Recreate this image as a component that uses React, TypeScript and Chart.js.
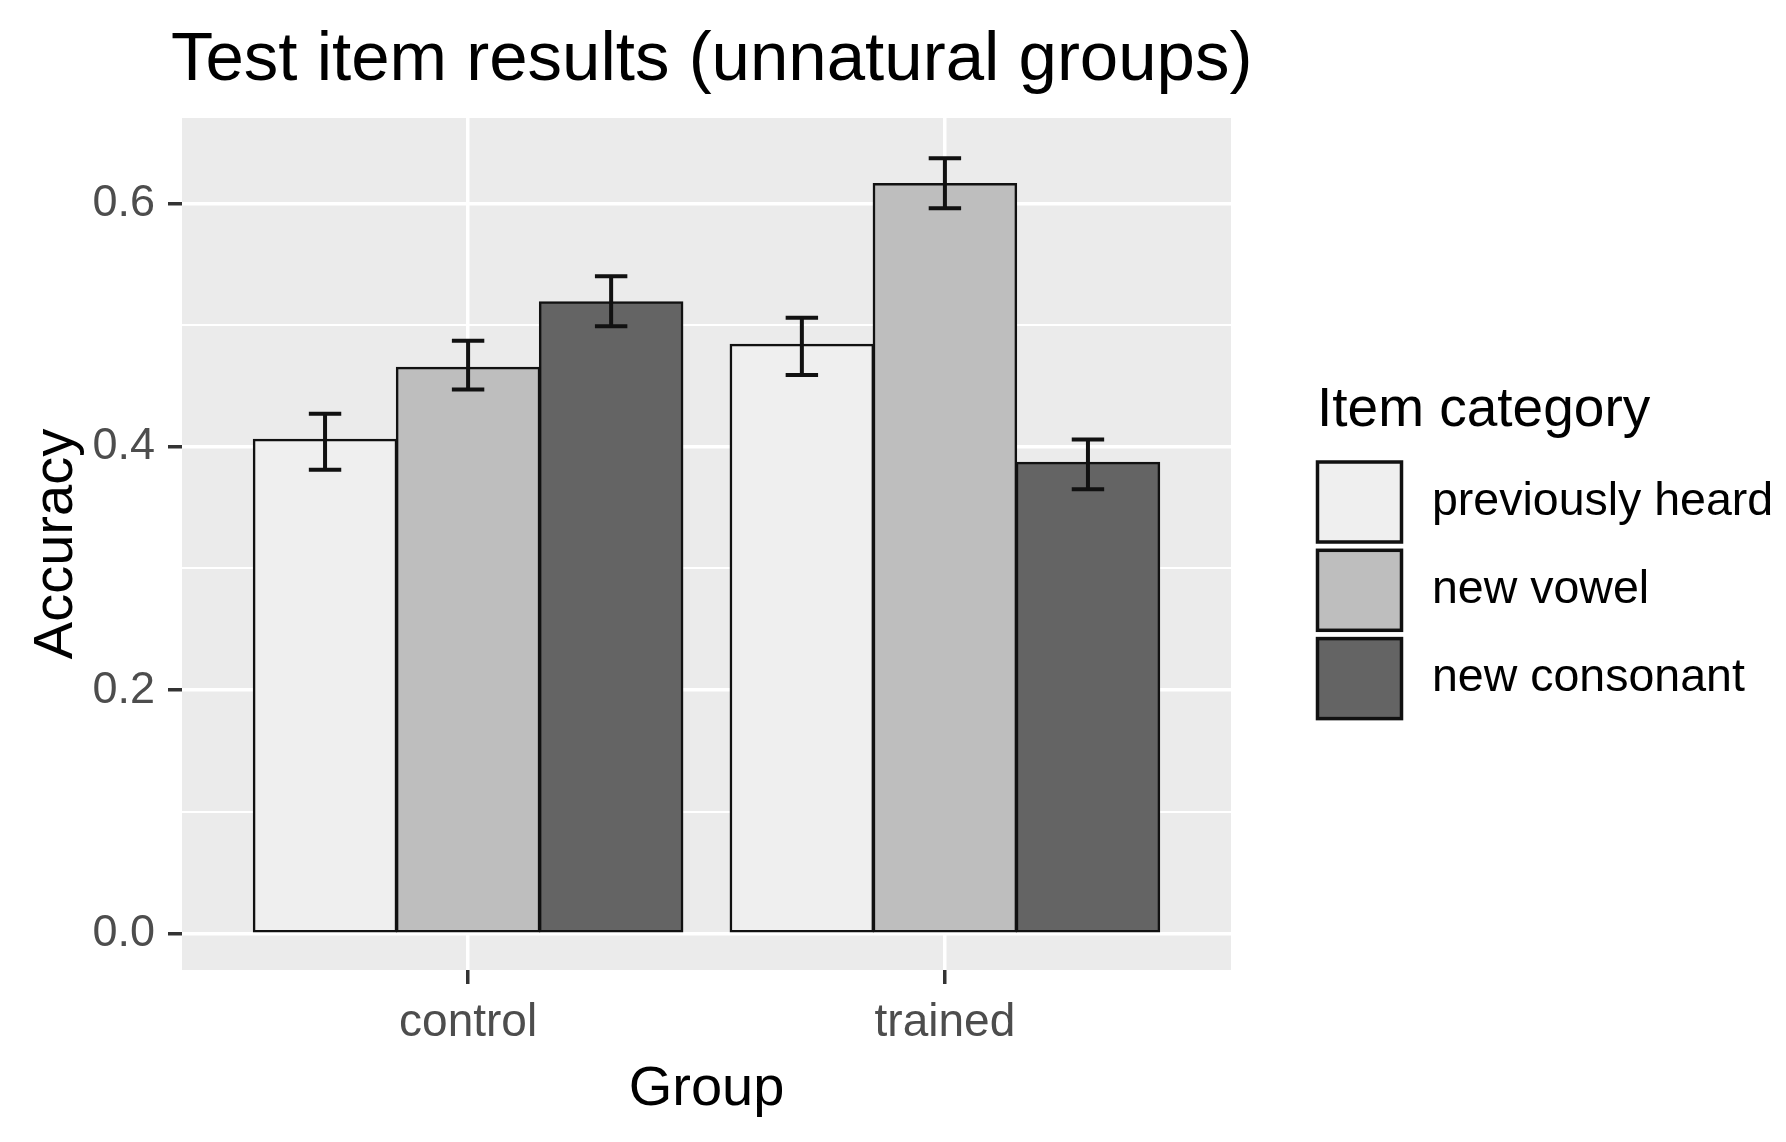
import React, { useEffect, useRef } from "react";
import { Chart, registerables } from "chart.js";

Chart.register(...registerables);

// ---- data ----
const groups = ["control", "trained"];
const categories = ["previously heard", "new vowel", "new consonant"];
const previouslyHeard = [0.406, 0.484];
const newVowel = [0.465, 0.616];
const newConsonant = [0.519, 0.387];
const previouslyHeardLow = [0.381, 0.459];
const previouslyHeardHigh = [0.427, 0.506];
const newVowelLow = [0.447, 0.596];
const newVowelHigh = [0.487, 0.637];
const newConsonantLow = [0.499, 0.365];
const newConsonantHigh = [0.540, 0.406];
const yTickValues = [0, 0.1, 0.2, 0.3, 0.4, 0.5, 0.6];
const yMin = -0.03;
const yMax = 0.6701;

const seriesValues = [previouslyHeard, newVowel, newConsonant];
const seriesLow = [previouslyHeardLow, newVowelLow, newConsonantLow];
const seriesHigh = [previouslyHeardHigh, newVowelHigh, newConsonantHigh];

const fills = ["#EFEFEF", "#BEBEBE", "#646464"];
const FONT = "'Liberation Sans', Arial, sans-serif";
const isMajor = (v: number) => Math.round(v * 10) % 2 === 0;

const W = 1786;
const H = 1142;

const bgPlugin = {
  id: "panelBg",
  beforeDraw(chart: any) {
    const { ctx, chartArea } = chart;
    ctx.save();
    ctx.fillStyle = "#FFFFFF";
    ctx.fillRect(0, 0, chart.width, chart.height);
    ctx.fillStyle = "#EBEBEB";
    ctx.fillRect(chartArea.left, chartArea.top, chartArea.right - chartArea.left, chartArea.bottom - chartArea.top);
    ctx.restore();
  },
};

const errorBarPlugin = {
  id: "errorBars",
  afterDatasetsDraw(chart: any) {
    const { ctx } = chart;
    const xs = chart.scales.x;
    const ys = chart.scales.y;
    const half = Math.abs(xs.getPixelForValue(1.034) - xs.getPixelForValue(1));
    ctx.save();
    ctx.strokeStyle = "#111111";
    ctx.lineWidth = 4;
    ctx.lineCap = "butt";
    chart.data.datasets.forEach((ds: any, i: number) => {
      const meta = chart.getDatasetMeta(i);
      meta.data.forEach((bar: any, j: number) => {
        const x = bar.x;
        const yl = ys.getPixelForValue(seriesLow[i][j]);
        const yh = ys.getPixelForValue(seriesHigh[i][j]);
        ctx.beginPath();
        ctx.moveTo(x, yl);
        ctx.lineTo(x, yh);
        ctx.moveTo(x - half, yl);
        ctx.lineTo(x + half, yl);
        ctx.moveTo(x - half, yh);
        ctx.lineTo(x + half, yh);
        ctx.stroke();
      });
    });
    ctx.restore();
  },
};

const textPlugin = {
  id: "texts",
  afterDraw(chart: any) {
    const { ctx, chartArea } = chart;
    ctx.save();
    ctx.fillStyle = "#000000";
    // plot title
    ctx.font = `69px ${FONT}`;
    ctx.textAlign = "left";
    ctx.textBaseline = "alphabetic";
    ctx.fillText("Test item results (unnatural groups)", 171, 80);
    // x axis title
    ctx.font = `56px ${FONT}`;
    ctx.textAlign = "center";
    ctx.fillText("Group", (chartArea.left + chartArea.right) / 2, 1105);
    // y axis title
    ctx.save();
    ctx.translate(72, (chartArea.top + chartArea.bottom) / 2);
    ctx.rotate(-Math.PI / 2);
    ctx.fillText("Accuracy", 0, 0);
    ctx.restore();
    // legend
    ctx.textAlign = "left";
    ctx.font = `55px ${FONT}`;
    ctx.fillText("Item category", 1317, 426);
    const boxX = 1317.5;
    const boxW = 84;
    const boxH = 80;
    const pitch = 88.3;
    chart.data.datasets.forEach((ds: any, i: number) => {
      const y0 = 462 + i * pitch;
      ctx.fillStyle = ds.backgroundColor;
      ctx.fillRect(boxX, y0, boxW, boxH);
      ctx.strokeStyle = "#111111";
      ctx.lineWidth = 3.5;
      ctx.strokeRect(boxX, y0, boxW, boxH);
      ctx.fillStyle = "#000000";
      ctx.font = `46.5px ${FONT}`;
      ctx.textBaseline = "middle";
      ctx.fillText(ds.label, 1432, y0 + boxH / 2);
      ctx.textBaseline = "alphabetic";
    });
    ctx.restore();
  },
};

export default function App() {
  const ref = useRef<HTMLCanvasElement | null>(null);

  useEffect(() => {
    if (!ref.current) return;
    const chart = new Chart(ref.current, {
      type: "bar",
      data: {
        datasets: categories.map((c, i) => ({
          label: c,
          data: groups.map((g, j) => ({ x: j + 1, y: seriesValues[i][j] })),
          backgroundColor: fills[i],
          borderColor: "#111111",
          borderWidth: 2.5,
          inflateAmount: 0.75,
          borderSkipped: false,
          categoryPercentage: 0.9,
          barPercentage: 1.0,
        })),
      },
      options: {
        animation: false,
        responsive: false,
        devicePixelRatio: 1,
        layout: { padding: { left: 0, top: 118, right: W - 1231, bottom: 0 } },
        plugins: {
          legend: { display: false },
          title: { display: false },
          tooltip: { enabled: false },
        },
        scales: {
          x: {
            type: "linear",
            position: "bottom",
            min: 0.4,
            max: 2.6,
            offset: false,
            afterBuildTicks: (s: any) => {
              s.ticks = groups.map((g, i) => ({ value: i + 1 }));
            },
            afterFit: (s: any) => {
              s.height = H - 970;
            },
            ticks: {
              callback: (v: any) => groups[Math.round(Number(v)) - 1] ?? "",
              font: { family: FONT, size: 46 },
              color: "#4D4D4D",
              padding: 12,
              maxRotation: 0,
              autoSkip: false,
            },
            grid: {
              offset: false,
              color: "#FFFFFF",
              lineWidth: 3.5,
              tickColor: "#333333",
              tickWidth: 3.5,
              tickLength: 14,
            },
            border: { display: false },
          },
          y: {
            type: "linear",
            position: "left",
            min: yMin,
            max: yMax,
            afterBuildTicks: (s: any) => {
              s.ticks = yTickValues.map((v) => ({ value: v }));
            },
            afterFit: (s: any) => {
              s.width = 182;
            },
            ticks: {
              callback: (v: any) => (isMajor(Number(v)) ? Number(v).toFixed(1) : ""),
              font: { family: FONT, size: 45 },
              color: "#4D4D4D",
              padding: 13,
              autoSkip: false,
            },
            grid: {
              color: "#FFFFFF",
              lineWidth: (c: any) => (isMajor(c.tick?.value ?? 0) ? 3.5 : 2),
              tickColor: (c: any) => (isMajor(c.tick?.value ?? 0) ? "#333333" : "rgba(0,0,0,0)"),
              tickWidth: 3.5,
              tickLength: 14,
            },
            border: { display: false },
          },
        },
      } as any,
      plugins: [bgPlugin, errorBarPlugin, textPlugin],
    });
    return () => chart.destroy();
  }, []);

  return (
    <div style={{ position: "absolute", left: 0, top: 0, width: W, height: H, background: "#FFFFFF" }}>
      <canvas ref={ref} width={W} height={H} style={{ width: W, height: H, display: "block" }} />
    </div>
  );
}
